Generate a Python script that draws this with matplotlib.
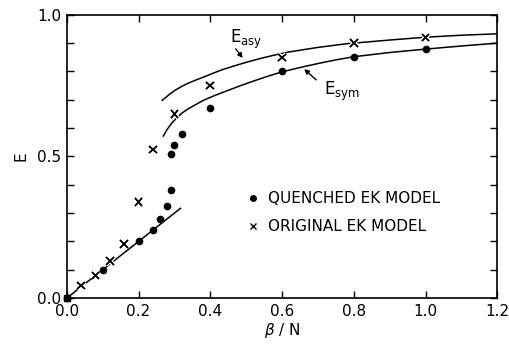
import numpy as np
import matplotlib.pyplot as plt
import matplotlib.patheffects as pe

# quenched EK model (dots)
q_beta = [0.0, 0.1, 0.2, 0.24, 0.26, 0.28, 0.29, 0.29, 0.30, 0.32, 0.40, 0.6, 0.8, 1.0]
q_E = [0.0, 0.10, 0.20, 0.24, 0.28, 0.325, 0.38, 0.51, 0.54, 0.58, 0.67, 0.80, 0.85, 0.88]

# original EK model (crosses)
o_beta = [0.04, 0.08, 0.12, 0.16, 0.20, 0.24, 0.30, 0.40, 0.6, 0.8, 1.0]
o_E = [0.045, 0.08, 0.13, 0.19, 0.34, 0.525, 0.65, 0.75, 0.85, 0.90, 0.92]

# curves
asy_beta = [0.266, 0.285, 0.302, 0.32, 0.339, 0.36, 0.385, 0.41, 0.435, 0.47, 0.502,
            0.54, 0.576, 0.62, 0.70, 0.78, 0.90, 1.0, 1.1, 1.2]
asy_E = [0.698, 0.718, 0.734, 0.747, 0.759, 0.770, 0.782, 0.795, 0.807, 0.821, 0.833,
         0.846, 0.857, 0.869, 0.885, 0.898, 0.911, 0.921, 0.928, 0.933]
sym_beta = [0.269, 0.28, 0.292, 0.306, 0.320, 0.338, 0.358, 0.376, 0.395, 0.42, 0.441,
            0.48, 0.52, 0.56, 0.598, 0.65, 0.70, 0.75, 0.80, 0.9, 1.0, 1.1, 1.2]
sym_E = [0.572, 0.596, 0.617, 0.636, 0.652, 0.668, 0.682, 0.695, 0.706, 0.719, 0.729,
         0.748, 0.766, 0.783, 0.798, 0.814, 0.828, 0.841, 0.852, 0.867, 0.879, 0.890, 0.900]
lin_beta = [0.0, 0.317]
lin_E = [0.0, 0.317]

xticks = [0.0, 0.2, 0.4, 0.6, 0.8, 1.0, 1.2]
xlabels = ['0.0', '0.2', '0.4', '0.6', '0.8', '1.0', '1.2']
yticks = np.round(np.arange(0, 1.01, 0.1), 1)
ylabels = ['0.0', '', '', '', '', '0.5', '', '', '', '', '1.0']

plt.rcParams['font.family'] = 'DejaVu Sans'
fig = plt.figure(figsize=(5.1, 3.45), dpi=100)
ax = fig.add_axes([0.131, 0.136, 0.844, 0.821])

ax.plot(asy_beta, asy_E, color='black', lw=1.1)
ax.plot(sym_beta, sym_E, color='black', lw=1.1)
ax.plot(lin_beta, lin_E, color='black', lw=1.1)

ax.plot(q_beta, q_E, 'o', color='black', ms=4.5, clip_on=False, zorder=4)
ax.plot(o_beta, o_E, 'x', color='black', ms=5.5, mew=1.1, clip_on=False, zorder=5,
        path_effects=[pe.withStroke(linewidth=3, foreground='white'), pe.Normal()])
ax.plot([0.0], [0.0], 's', color='black', ms=4.5, clip_on=False, zorder=6)

# curve labels
ax.text(0.50, 0.915, r'E$_{\mathregular{asy}}$', fontsize=12, ha='center', va='center')
ax.annotate('', xy=(0.495, 0.840), xytext=(0.466, 0.888),
            arrowprops=dict(arrowstyle='-|>', color='black', lw=1.0, mutation_scale=7))
ax.text(0.768, 0.73, r'E$_{\mathregular{sym}}$', fontsize=12, ha='center', va='center')
ax.annotate('', xy=(0.656, 0.815), xytext=(0.701, 0.764),
            arrowprops=dict(arrowstyle='-|>', color='black', lw=1.0, mutation_scale=7))

# legend drawn by hand
ax.plot([0.52], [0.352], 'o', color='black', ms=4)
ax.text(0.56, 0.352, 'QUENCHED EK MODEL', fontsize=11, va='center')
ax.plot([0.52], [0.254], 'x', color='black', ms=4.5, mew=1.0)
ax.text(0.56, 0.254, 'ORIGINAL EK MODEL', fontsize=11, va='center')

ax.set_xlim(0, 1.2)
ax.set_ylim(0, 1.0)
ax.set_xticks(xticks)
ax.set_xticklabels(xlabels)
ax.set_yticks(yticks)
ax.set_yticklabels(ylabels)
ax.tick_params(direction='in', top=True, right=True, length=5, width=1,
               labelsize=11, pad=4)
for s in ax.spines.values():
    s.set_linewidth(1.2)

ax.set_xlabel(r'$\beta$ / N', fontsize=11, labelpad=2)
ax.set_ylabel('E', fontsize=11, labelpad=6)

fig.savefig('out.png', dpi=100)
